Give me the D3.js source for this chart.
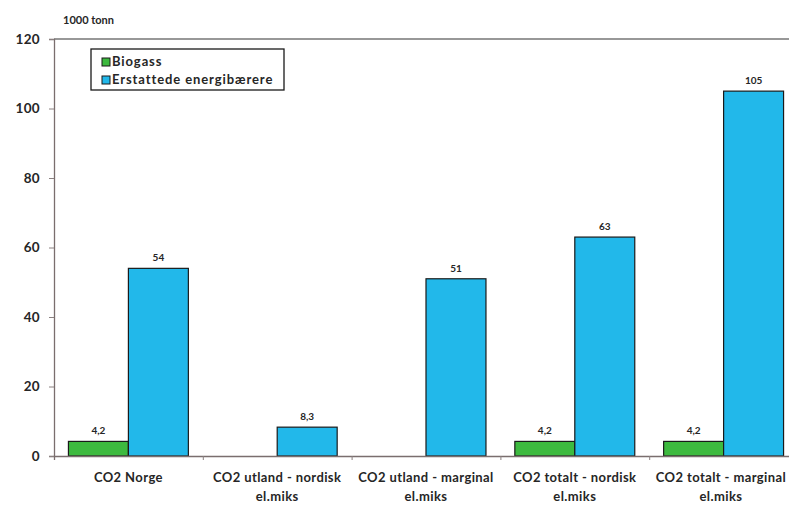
<!DOCTYPE html>
<html><head><meta charset="utf-8">
<script src="https://cdn.jsdelivr.net/npm/d3@7"></script>
<style>
html,body{margin:0;padding:0;background:#fff;}
svg{display:block;font-family:Lato,"Open Sans",sans-serif;font-weight:bold;}
</style></head>
<body><svg id="c" width="789" height="505"></svg>
<script>
const categories = [["CO2 Norge"],["CO2 utland - nordisk","el.miks"],["CO2 utland - marginal","el.miks"],["CO2 totalt - nordisk","el.miks"],["CO2 totalt - marginal","el.miks"]];
const seriesNames = ["Biogass","Erstattede energibærere"];
const biogass = [4.2, 0, 0, 4.2, 4.2];
const erstattede = [54, 8.3, 51, 63, 105];
const valueLabels = [["4,2",null,null,"4,2","4,2"],["54","8,3","51","63","105"]];
const yTicks = [0,20,40,60,80,100,120];
const colors = ["#3dba3f","#22b8ea"];
const unitLabel = "1000 tonn";

const svg = d3.select("#c");
const L=54, R=798, T=39, B=456;
const y = d3.scaleLinear().domain([0,120]).range([B,T]);
const x0 = d3.scaleBand().domain(d3.range(categories.length)).range([L,R]).padding(0);
const bw = x0.bandwidth();
const x1 = d3.scaleBand().domain([0,1]).range([bw*0.097, bw*0.903]).padding(0);
const series=[biogass, erstattede];
const ink="#262626";

// plot border
svg.append("line").attr("x1",L).attr("x2",R).attr("y1",T).attr("y2",T).attr("stroke","#333").attr("stroke-width",1.2);

// y axis
const ya = svg.append("g").attr("transform",`translate(${L},0)`)
  .call(d3.axisLeft(y).tickValues(yTicks).tickSize(5).tickPadding(9));
ya.select(".domain").attr("stroke","#7a6e6e").attr("stroke-width",1.3);
ya.selectAll(".tick line").attr("stroke","#8a8080");
ya.selectAll(".tick text").attr("fill",ink).style("font-size","13.5px").style("font-family","Lato,sans-serif").style("font-weight","bold").style("letter-spacing","0.3px");

// bars
series.forEach((s,si)=>{
  const d2 = s.map((v,i)=>({v,i,lab:valueLabels[si][i]}));
  svg.append("g").selectAll("rect").data(d2.filter(d=>d.v>0)).join("rect")
    .attr("x",d=>x0(d.i)+x1(si))
    .attr("width",x1.bandwidth())
    .attr("y",d=>y(d.v))
    .attr("height",d=>B-y(d.v))
    .attr("fill",colors[si]).attr("stroke","#1a1a1a").attr("stroke-width",1.2);
  svg.append("g").selectAll("text").data(d2.filter(d=>d.lab!==null)).join("text")
    .attr("x",d=>x0(d.i)+x1(si)+x1.bandwidth()/2)
    .attr("y",d=>y(d.v)-7)
    .attr("text-anchor","middle").attr("fill",ink).style("font-size","10px")
    .text(d=>d.lab);
});

// x axis
const xa = svg.append("g").attr("transform",`translate(0,${B})`)
  .call(d3.axisBottom(d3.scaleLinear().domain([0,categories.length]).range([L,R])).tickValues(d3.range(1,categories.length)).tickSize(4).tickFormat(""));
xa.select(".domain").attr("stroke","#7a6e6e").attr("stroke-width",1.3);
xa.selectAll(".tick line").attr("stroke","#8a8080");

svg.append("g").selectAll("text").data(categories).join("text")
  .attr("x",(d,i)=>Math.min(x0(i)+bw/2, 721)).attr("y",482)
  .attr("text-anchor","middle").attr("fill",ink).style("font-size","13px").style("letter-spacing","0.4px")
  .each(function(d){
    d.forEach((t,k)=>d3.select(this).append("tspan").attr("x",d3.select(this).attr("x")).attr("dy",k?19:0).text(t));
  });

// unit label
svg.append("text").attr("x",63).attr("y",24).attr("fill",ink).style("font-size","11px").text(unitLabel);

// legend
const lg = svg.append("g");
lg.append("rect").attr("x",91).attr("y",49).attr("width",193).attr("height",41).attr("fill","#fff").attr("stroke","#1a1a1a").attr("stroke-width",1.3);
seriesNames.forEach((n,i)=>{
  lg.append("rect").attr("x",102).attr("y",58+i*18).attr("width",8).attr("height",8).attr("fill",colors[i]).attr("stroke","#1a1a1a").attr("stroke-width",1);
  lg.append("text").attr("x",112).attr("y",66+i*18).attr("fill",ink).style("font-size","13px").style("letter-spacing","0.9px").text(n);
});
</script></body></html>
